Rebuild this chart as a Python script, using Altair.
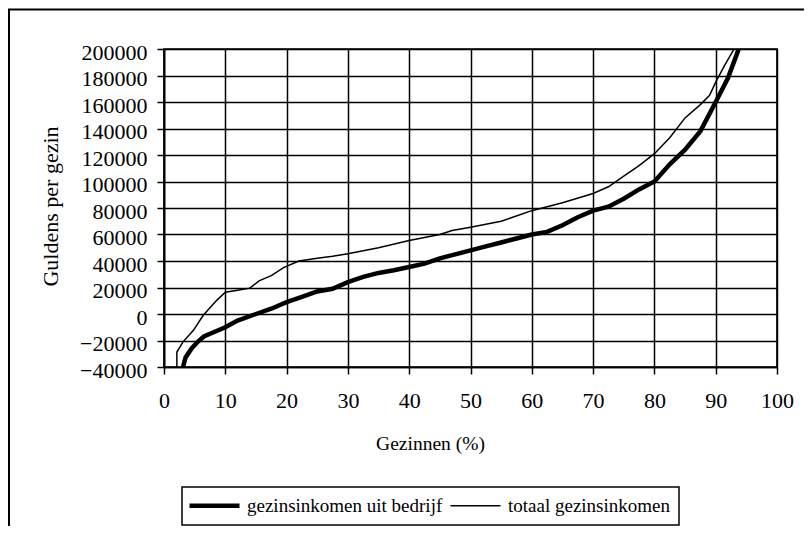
import altair as alt
import pandas as pd

# gezinsinkomen uit bedrijf (thick)
bedrijf_x = [3.0, 3.5, 4.5, 5.5, 6.5, 8, 10, 12, 15, 17.5, 20, 22.5, 25, 27.5, 30, 32.5, 35, 37.5,
             40, 42.5, 45, 47.5, 50, 52.5, 55, 57.5, 60, 62.5, 65, 67.5, 70, 72.5, 75, 77.5, 80,
             82.5, 85, 87.5, 90, 92, 93.6, 94.5]
bedrijf_y = [-42000, -33000, -26000, -21000, -17000, -14000, -10000, -5000, 0, 4000, 9000, 13000,
             17000, 19000, 24000, 28000, 31000, 33000, 35500, 38000, 42000, 45000, 48000, 51000,
             54000, 57000, 60000, 62000, 67000, 73000, 78000, 81000, 87000, 94000, 100000,
             113000, 124000, 138000, 160000, 178000, 198000, 210000]

# totaal gezinsinkomen (thin)
totaal_x = [2.1, 2.1, 3.1, 4.8, 6.4, 8.6, 10, 12, 14, 15.5, 17.5, 19.5, 22, 25, 27.5, 30, 35, 40,
            45, 47, 50, 55, 60, 65, 70, 72.5, 75, 77.5, 80, 82.5, 85, 87.5, 89, 90, 91.5, 93, 94]
totaal_y = [-42000, -28700, -21000, -12300, -1000, 10300, 16500, 18000, 19500, 25000, 29000,
            35000, 40000, 42000, 43500, 45500, 50000, 55500, 60000, 63000, 65500, 70000, 78000,
            84000, 91000, 96000, 104000, 112000, 121000, 133000, 148000, 158000, 165000, 175000,
            188000, 200000, 210000]

series_names = ["gezinsinkomen uit bedrijf", "totaal gezinsinkomen"]
x_ticks = list(range(0, 101, 10))
y_ticks = list(range(-40000, 200001, 20000))

rows = []
for i, (x, y) in enumerate(zip(bedrijf_x, bedrijf_y)):
    rows.append({"serie": series_names[0], "x": x, "y": y, "o": i})
for i, (x, y) in enumerate(zip(totaal_x, totaal_y)):
    rows.append({"serie": series_names[1], "x": x, "y": y, "o": i})
df = pd.DataFrame(rows)

FONT = "Liberation Serif"

lines = alt.Chart(df).mark_line(clip=True, color="black", strokeJoin="miter").encode(
    x=alt.X("x:Q", scale=alt.Scale(domain=[0, 100], nice=False),
            axis=alt.Axis(values=x_ticks, title="Gezinnen (%)", titleX=266, titleY=82,
                          titleBaseline="alphabetic", labelBaseline="alphabetic",
                          labelPadding=33, labelFlush=False, titleFontSize=19.5)),
    y=alt.Y("y:Q", scale=alt.Scale(domain=[-40000, 200000], nice=False),
            axis=alt.Axis(values=y_ticks, format="d", title="Guldens per gezin",
                          titleX=-107, titleY=157, titleAngle=-90, titleAlign="center",
                          titleBaseline="alphabetic", labelPadding=10, labelOffset=3,
                          labelFlush=False, titleFontSize=22)),
    order="o:Q",
    strokeWidth=alt.StrokeWidth(
        "serie:N",
        scale=alt.Scale(domain=series_names, range=[4.5, 1.5]),
        legend=alt.Legend(title=None, orient="none", legendX=18, legendY=438,
                          direction="horizontal", symbolType="M-2.2,0H7.8", symbolSize=100,
                          symbolStrokeColor="black", strokeColor="black", padding=9,
                          labelFont=FONT, labelFontSize=19, labelColor="black",
                          labelOffset=37, columnPadding=4, labelLimit=400),
    ),
)

frame = alt.Chart(pd.DataFrame({"a": [0]})).mark_rect(
    fill=None, stroke="black", strokeWidth=2
).encode(x=alt.value(-155), x2=alt.value(700), y=alt.value(-39.5), y2=alt.value(600))

chart = alt.layer(frame, lines).properties(
    width=613, height=318,
    autosize=alt.AutoSizeParams(type="none"),
    padding={"left": 156, "top": 41, "right": 27, "bottom": 159},
    background="white",
).configure_view(stroke="black", strokeWidth=1.7).configure_axis(
    grid=True, gridColor="black", gridWidth=1.5, gridOpacity=1,
    domainColor="black", domainWidth=1.7, tickColor="black", tickWidth=1.5, tickSize=7,
    labelFont=FONT, labelFontSize=22, labelColor="black",
    titleFont=FONT, titleFontWeight="normal", titleColor="black",
).configure_legend(strokeWidth=1.5)

chart.save("out.html", embed_options={"renderer": "svg", "actions": False})
